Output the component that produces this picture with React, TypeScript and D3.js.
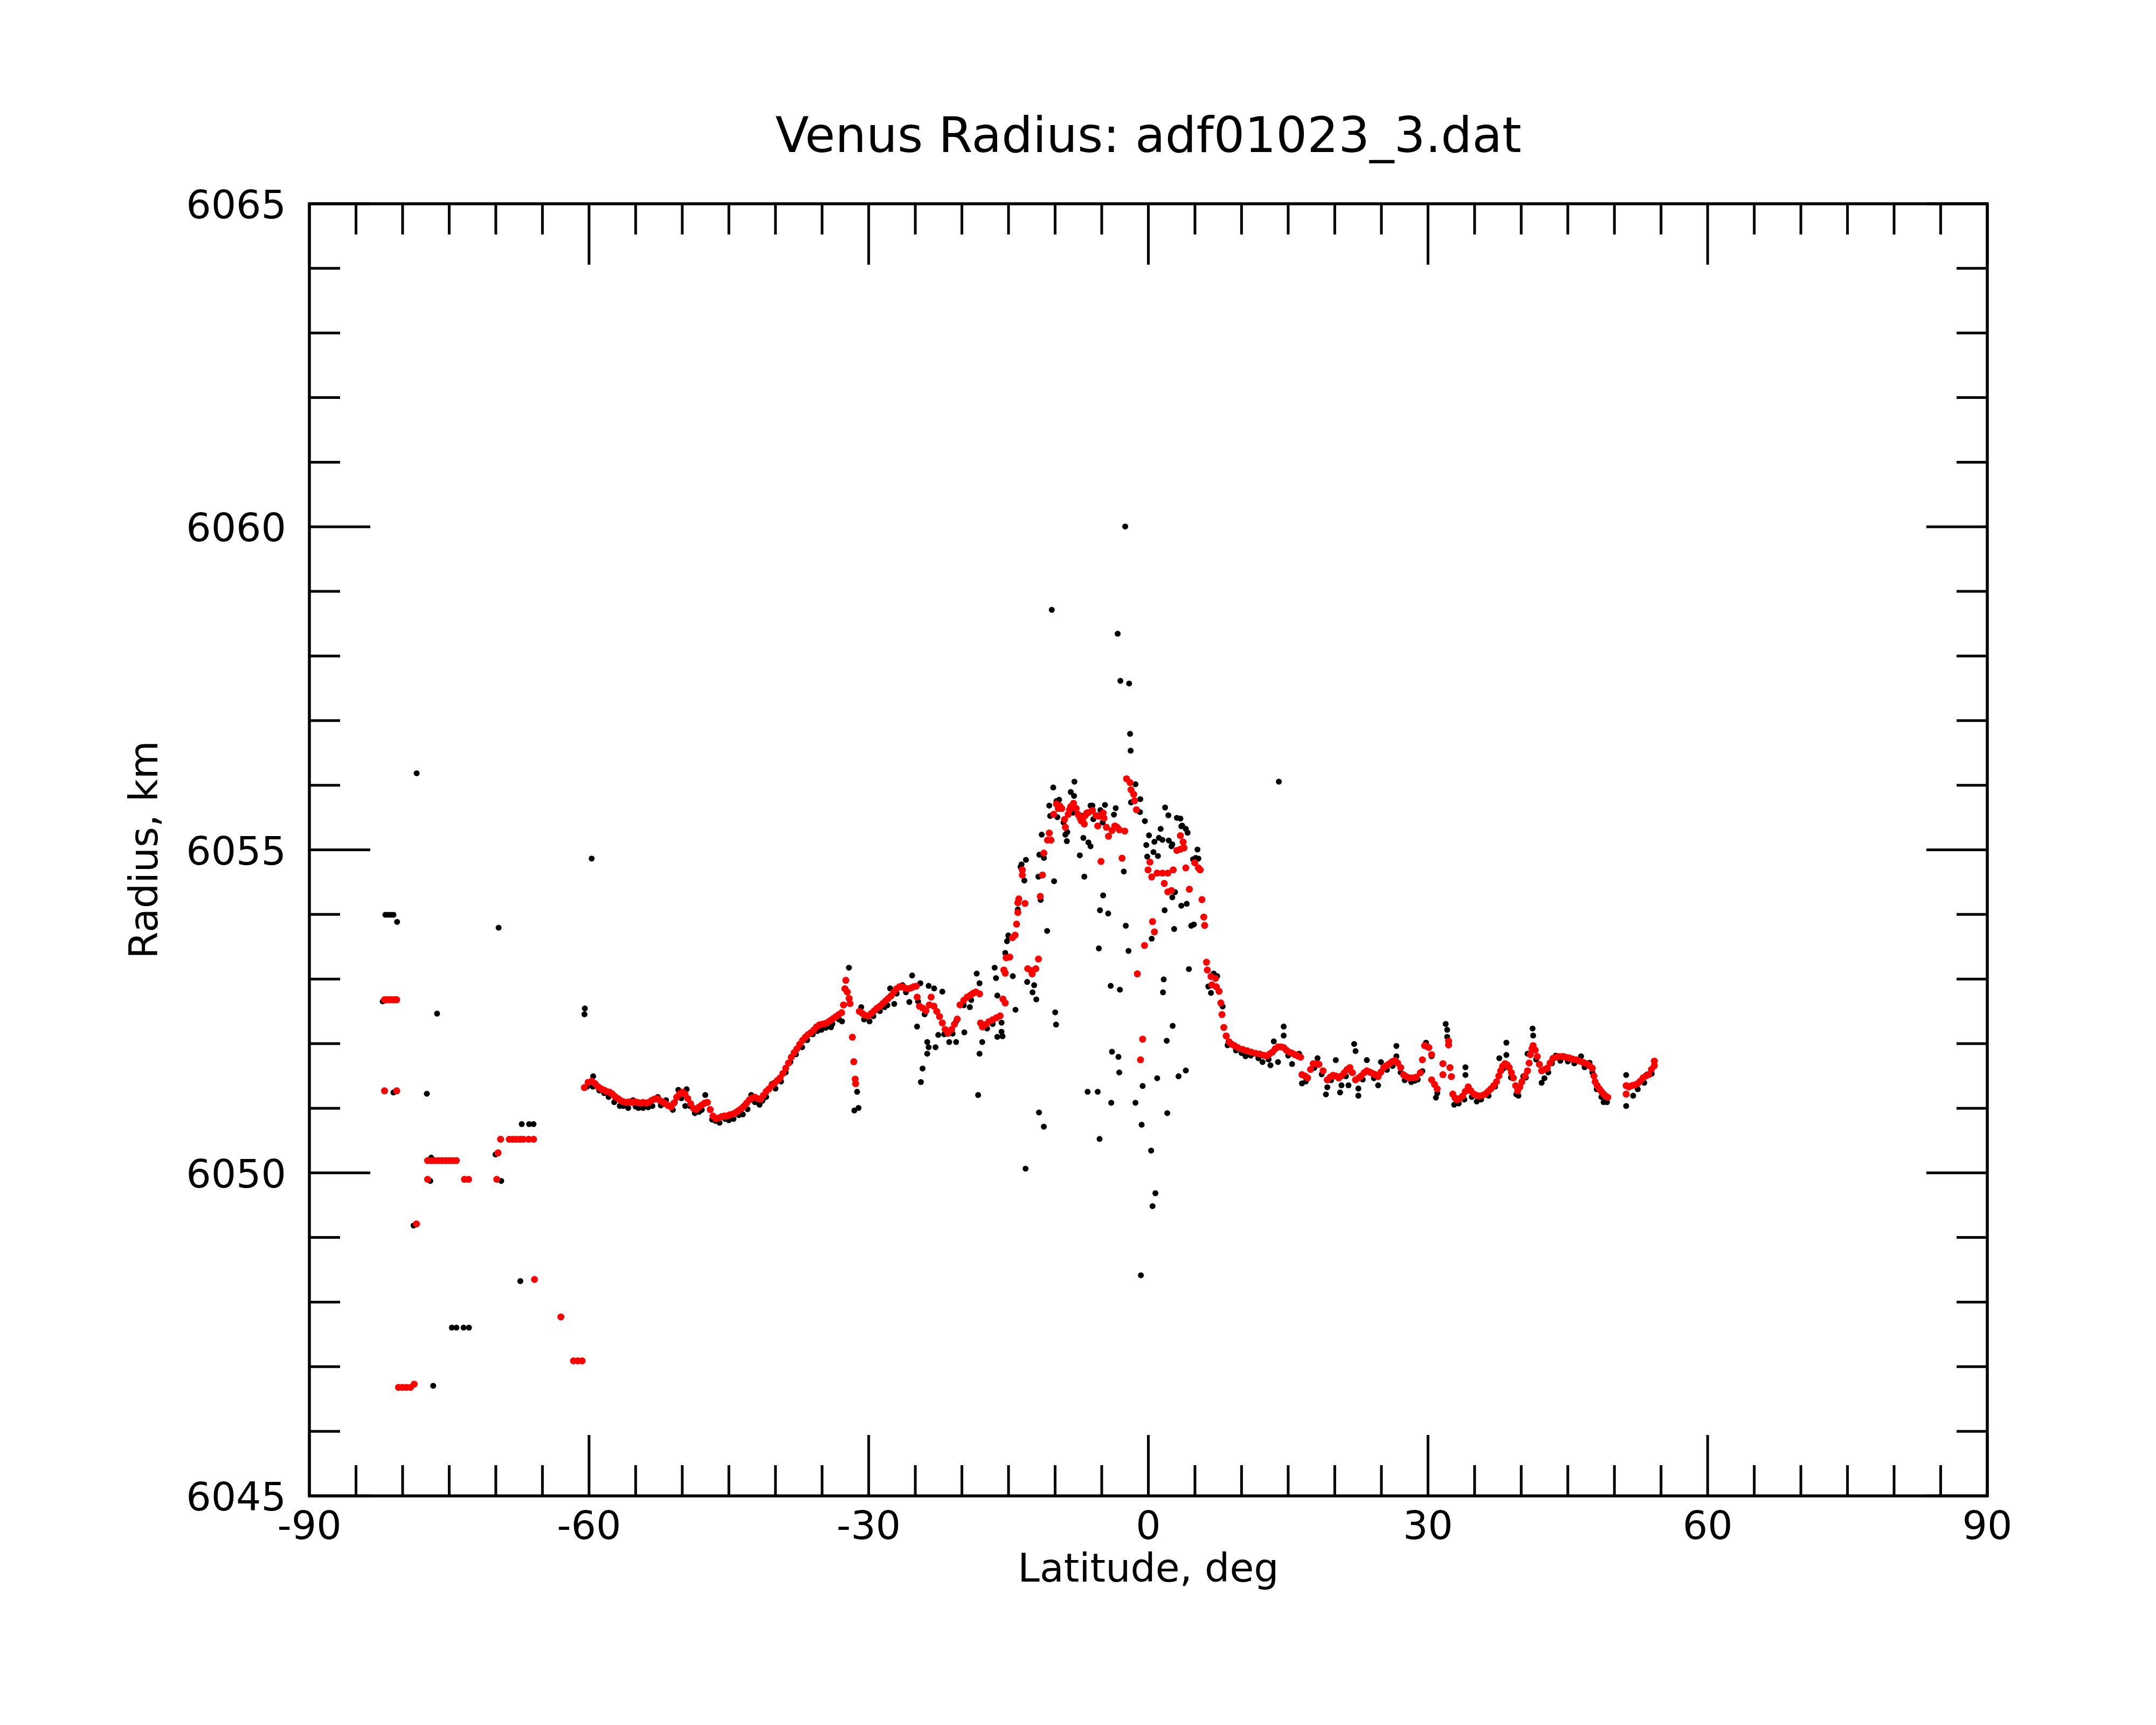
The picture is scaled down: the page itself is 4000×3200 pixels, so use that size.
import { useEffect, useRef } from 'react'
import * as d3 from 'd3'

// latitude (deg), radius (km)
const redPolar = [
  [-81.94, 6052.68], [-81.65, 6052.68], [-81.36, 6052.68], [-81.08, 6052.68], [-80.79, 6052.68], [-80.63, 6052.68],
  [-81.94, 6051.27], [-80.63, 6051.27], [-78.51, 6049.21],
  [-77.32, 6050.19], [-76.93, 6050.19], [-76.55, 6050.19], [-76.16, 6050.19], [-75.78, 6050.19],
  [-75.39, 6050.19], [-75.0, 6050.19], [-74.62, 6050.19], [-74.23, 6050.19],
  [-77.32, 6049.9], [-73.37, 6049.9], [-72.92, 6049.9], [-69.9, 6049.9], [-69.76, 6050.31],
  [-69.49, 6050.52], [-68.55, 6050.52], [-68.16, 6050.52], [-67.78, 6050.52], [-67.39, 6050.52],
  [-67.06, 6050.52], [-66.48, 6050.52], [-65.95, 6050.52],
  [-65.85, 6048.35], [-63.02, 6047.77], [-61.67, 6047.09], [-61.22, 6047.09], [-60.74, 6047.09],
  [-80.44, 6046.68], [-80.02, 6046.68], [-79.59, 6046.68], [-79.15, 6046.68], [-78.76, 6046.73]
]

const blackPolar = [
  [-82.13, 6052.68], [-81.85, 6054.02], [-81.56, 6054.02], [-81.27, 6054.02], [-80.98, 6054.02], [-80.59, 6053.91],
  [-80.98, 6051.27], [-77.4, 6051.25], [-78.49, 6056.21], [-76.3, 6052.49], [-78.82, 6049.21], [-76.93, 6050.26],
  [-77.03, 6049.9], [-69.42, 6049.9], [-70.03, 6050.31], [-67.22, 6050.78], [-66.43, 6050.78], [-65.95, 6050.78],
  [-67.37, 6048.35], [-74.72, 6047.63], [-74.23, 6047.63], [-73.46, 6047.63], [-72.88, 6047.63], [-76.72, 6046.73],
  [-69.7, 6053.82], [-59.72, 6054.89], [-60.49, 6052.48], [-59.59, 6051.36]
]

const redSouth = [
  [-60.5, 6051.32], [-60.1, 6051.4], [-59.7, 6051.42], [-59.35, 6051.38], [-59.0, 6051.33], [-58.7, 6051.3],
  [-58.4, 6051.28], [-58.1, 6051.26], [-57.8, 6051.25], [-57.5, 6051.22], [-57.2, 6051.18], [-56.9, 6051.15],
  [-56.6, 6051.12], [-56.3, 6051.1], [-56.0, 6051.09], [-55.7, 6051.1], [-55.4, 6051.09], [-55.1, 6051.1],
  [-54.8, 6051.09], [-54.5, 6051.08], [-54.2, 6051.09], [-53.9, 6051.08], [-53.6, 6051.09], [-53.3, 6051.12],
  [-53.0, 6051.14], [-52.7, 6051.15], [-52.4, 6051.12], [-52.1, 6051.1], [-51.8, 6051.07], [-51.5, 6051.04],
  [-51.2, 6051.02], [-50.9, 6051.08], [-50.6, 6051.17], [-50.3, 6051.22], [-50.0, 6051.25], [-49.7, 6051.22],
  [-49.4, 6051.15], [-49.1, 6051.07], [-48.8, 6051.0], [-48.5, 6050.98], [-48.2, 6051.02], [-47.9, 6051.05],
  [-47.6, 6051.08], [-47.3, 6051.09], [-47.0, 6050.98], [-46.7, 6050.88], [-46.4, 6050.84], [-46.1, 6050.85],
  [-45.8, 6050.87], [-45.5, 6050.88], [-45.2, 6050.88], [-44.9, 6050.9], [-44.6, 6050.91], [-44.3, 6050.93],
  [-44.0, 6050.96], [-43.7, 6050.99], [-43.4, 6051.03], [-43.1, 6051.08], [-42.8, 6051.13], [-42.5, 6051.16],
  [-42.2, 6051.17], [-41.9, 6051.15], [-41.6, 6051.14], [-41.3, 6051.2], [-41.0, 6051.26], [-40.7, 6051.3],
  [-40.4, 6051.35], [-40.1, 6051.39], [-39.8, 6051.43], [-39.5, 6051.47], [-39.2, 6051.54], [-38.9, 6051.62],
  [-38.6, 6051.7], [-38.3, 6051.79], [-38.0, 6051.86], [-37.7, 6051.92], [-37.4, 6051.99], [-37.1, 6052.05],
  [-36.8, 6052.1], [-36.5, 6052.14], [-36.2, 6052.17], [-35.9, 6052.21], [-35.6, 6052.26], [-35.3, 6052.29],
  [-35.0, 6052.3], [-34.7, 6052.31], [-34.4, 6052.33], [-34.1, 6052.36], [-33.8, 6052.39], [-33.5, 6052.42],
  [-33.2, 6052.45], [-32.9, 6052.48], [-32.7, 6052.6], [-32.55, 6052.85], [-32.45, 6052.98], [-32.3, 6052.8],
  [-32.1, 6052.7], [-32.0, 6052.62], [-31.75, 6052.1], [-31.6, 6051.72], [-31.45, 6051.45], [-31.4, 6051.38],
  [-31.0, 6052.5], [-30.7, 6052.47], [-30.4, 6052.44], [-30.05, 6052.43], [-29.7, 6052.47], [-29.4, 6052.51],
  [-29.1, 6052.55], [-28.8, 6052.58], [-28.5, 6052.62], [-28.2, 6052.66], [-27.9, 6052.7], [-27.6, 6052.74],
  [-27.3, 6052.8], [-27.0, 6052.85], [-26.7, 6052.88], [-26.4, 6052.88], [-26.1, 6052.86], [-25.8, 6052.85],
  [-25.5, 6052.86], [-25.2, 6052.88], [-24.9, 6052.89], [-24.8, 6052.72], [-24.55, 6052.58], [-24.2, 6052.55],
  [-23.85, 6052.51], [-23.5, 6052.6], [-23.3, 6052.72], [-23.0, 6052.58], [-22.7, 6052.5], [-22.4, 6052.42],
  [-22.1, 6052.32], [-21.8, 6052.22], [-21.5, 6052.16], [-21.1, 6052.22], [-20.8, 6052.3], [-20.5, 6052.38],
  [-20.2, 6052.6], [-19.8, 6052.67], [-19.45, 6052.72], [-19.1, 6052.75], [-18.8, 6052.78], [-18.5, 6052.8],
  [-18.1, 6052.77], [-18.0, 6052.32], [-17.8, 6052.26], [-17.4, 6052.3], [-17.1, 6052.34], [-16.7, 6052.37],
  [-16.3, 6052.4], [-15.9, 6052.43], [-15.6, 6052.69]
]

const blackSouth = [
  [-60.2, 6051.36], [-59.9, 6051.4], [-58.9, 6051.3], [-57.9, 6051.2], [-57.3, 6051.12], [-56.7, 6051.06],
  [-55.8, 6051.03], [-55.0, 6051.05], [-54.2, 6051.03], [-53.2, 6051.06], [-52.3, 6051.07], [-50.8, 6051.12],
  [-50.1, 6051.18], [-49.2, 6051.06], [-48.2, 6050.97], [-47.9, 6051.0], [-46.8, 6050.85], [-46.0, 6050.8],
  [-45.0, 6050.84], [-44.5, 6050.86], [-43.5, 6050.93], [-43.0, 6051.01], [-42.2, 6051.12], [-41.4, 6051.14],
  [-41.0, 6051.2], [-40.0, 6051.33], [-39.4, 6051.44], [-38.4, 6051.74], [-37.8, 6051.86], [-36.6, 6052.08],
  [-36.0, 6052.17], [-35.5, 6052.22], [-34.6, 6052.27], [-33.9, 6052.33], [-33.2, 6052.4], [-30.5, 6052.4],
  [-29.5, 6052.45], [-28.8, 6052.53], [-28.0, 6052.62], [-27.0, 6052.8], [-26.0, 6052.82], [-24.7, 6052.68],
  [-24.0, 6052.48], [-21.9, 6052.17], [-21.0, 6052.18], [-19.8, 6052.62], [-19.0, 6052.7], [-17.3, 6052.26],
  [-16.7, 6052.33],
  [-59.56, 6051.52], [-58.38, 6051.26], [-56.32, 6051.06], [-55.28, 6051.15], [-54.69, 6051.03], [-53.66, 6051.04],
  [-52.63, 6051.2], [-51.74, 6051.15], [-51.01, 6051.0], [-50.42, 6051.31], [-49.53, 6051.32], [-49.68, 6051.06],
  [-48.65, 6050.95], [-47.53, 6051.23], [-46.43, 6050.83], [-45.4, 6050.86], [-43.93, 6050.92], [-42.6, 6051.23],
  [-41.71, 6051.08], [-40.39, 6051.4], [-38.91, 6051.58], [-37.14, 6051.97], [-35.07, 6052.24], [-34.04, 6052.28],
  [-33.45, 6052.45], [-32.86, 6052.37], [-32.12, 6053.2], [-31.54, 6050.99], [-31.09, 6051.03], [-31.24, 6051.28],
  [-60.45, 6052.57], [-30.8, 6052.59], [-29.91, 6052.37], [-28.29, 6052.59], [-27.7, 6052.88], [-27.26, 6052.64],
  [-26.37, 6052.93], [-25.64, 6052.67], [-25.34, 6053.08], [-24.46, 6052.96], [-23.57, 6052.92], [-22.98, 6052.88],
  [-22.1, 6052.83], [-24.81, 6052.29], [-23.72, 6052.05], [-23.57, 6051.97], [-22.83, 6051.97], [-23.72, 6051.87],
  [-24.22, 6051.64], [-24.4, 6051.43], [-22.54, 6052.16], [-21.36, 6052.05], [-20.62, 6052.05], [-20.62, 6052.37],
  [-19.74, 6052.2], [-19.15, 6052.59], [-18.41, 6053.11], [-18.11, 6052.96], [-17.82, 6052.05], [-18.11, 6051.87],
  [-18.26, 6051.23], [-16.49, 6053.2], [-16.34, 6053.04], [-16.2, 6052.77], [-16.2, 6052.13], [-15.75, 6052.21],
  [-15.75, 6052.35], [-15.02, 6053.7]
]

const redEquator = [
  [-15.35, 6052.63], [-15.5, 6053.14], [-15.35, 6053.09], [-15.25, 6053.33], [-14.87, 6053.34], [-14.58, 6053.64],
  [-14.29, 6053.68], [-14.14, 6053.85], [-14.0, 6054.03], [-14.0, 6054.18], [-13.9, 6054.24], [-13.23, 6054.17],
  [-13.52, 6054.61], [-13.52, 6054.69], [-12.94, 6053.16], [-12.56, 6053.13], [-12.46, 6053.08], [-12.07, 6053.16],
  [-11.79, 6053.31], [-11.59, 6054.28], [-11.36, 6054.61], [-11.21, 6054.95], [-10.82, 6055.15], [-10.44, 6055.15],
  [-10.63, 6055.26], [-10.15, 6055.55], [-9.86, 6055.71], [-9.66, 6055.64], [-9.5, 6055.68], [-9.28, 6055.64],
  [-8.99, 6055.47], [-8.9, 6055.35], [-8.6, 6055.55], [-8.45, 6055.62], [-8.32, 6055.67], [-8.03, 6055.72],
  [-7.74, 6055.64], [-7.55, 6055.55], [-7.35, 6055.5], [-7.2, 6055.45], [-7.06, 6055.47], [-6.87, 6055.4],
  [-6.77, 6055.53], [-6.6, 6055.57], [-6.39, 6055.58], [-6.0, 6055.61], [-5.62, 6055.53], [-5.43, 6055.37],
  [-5.3, 6055.52], [-4.85, 6055.57], [-4.75, 6055.49], [-4.5, 6055.35], [-4.27, 6055.21], [-3.9, 6055.3],
  [-3.59, 6055.37], [-3.35, 6055.35], [-3.11, 6055.31], [-2.53, 6055.29], [-5.08, 6054.82], [-2.82, 6054.87],
  [-2.34, 6056.1], [-1.96, 6056.04], [-1.86, 6055.93], [-1.57, 6055.86], [-1.47, 6055.76], [-1.28, 6055.62],
  [0.17, 6054.81], [-0.03, 6054.69], [0.36, 6054.58], [0.94, 6054.64], [1.51, 6054.64], [2.09, 6054.64],
  [2.67, 6054.69], [1.71, 6054.48], [2.09, 6054.35], [2.48, 6054.37], [3.44, 6055.22], [3.73, 6055.12],
  [3.83, 6055.03], [3.06, 6054.99], [3.44, 6055.01], [4.02, 6054.72], [4.4, 6054.39], [4.98, 6054.8],
  [5.37, 6054.72], [5.56, 6054.69], [5.75, 6054.23], [5.95, 6053.96], [6.04, 6053.83], [6.24, 6053.26],
  [6.33, 6053.14], [6.72, 6053.04], [7.2, 6053.01], [6.81, 6052.91], [7.3, 6052.88], [7.59, 6052.81],
  [7.78, 6052.63], [-0.41, 6053.52], [0.45, 6053.89], [0.65, 6053.73], [-1.18, 6053.08], [-0.61, 6052.07],
  [-0.84, 6051.75]
]

const blackEquator = [
  [-2.48, 6060.03], [-10.36, 6058.74], [-3.29, 6058.37], [-3.0, 6057.64], [-2.06, 6057.6], [-1.96, 6056.82],
  [-1.9, 6056.56], [-14.25, 6052.55], [-9.99, 6052.51], [-9.9, 6052.32], [-15.64, 6052.14], [-6.51, 6051.28],
  [-5.43, 6051.28], [-3.98, 6051.11], [-1.38, 6051.11], [-0.61, 6051.37], [-0.72, 6050.77], [0.95, 6051.49],
  [3.24, 6051.52], [4.02, 6051.61], [2.03, 6050.95], [-11.73, 6050.96], [-11.21, 6050.74], [-5.23, 6050.55],
  [-13.17, 6050.09], [0.3, 6050.37], [0.76, 6049.71], [0.45, 6049.51], [-0.8, 6048.44], [2.61, 6052.3],
  [1.97, 6052.07], [-3.9, 6051.9], [-3.21, 6051.82], [-3.12, 6051.58],
  [-7.93, 6056.08], [-10.2, 6055.99], [-8.32, 6055.92], [-7.97, 6055.86], [-9.57, 6055.8], [-9.86, 6055.78],
  [-10.63, 6055.71], [-6.2, 6055.71], [-6.0, 6055.71], [-4.65, 6055.72], [-3.5, 6055.67], [-3.69, 6055.57],
  [-5.14, 6055.64], [-10.53, 6055.55], [-9.76, 6055.53], [-1.38, 6056.04], [-0.86, 6055.81], [-1.86, 6055.76],
  [-0.9, 6055.61], [-0.37, 6055.47], [1.8, 6055.68], [2.15, 6055.56], [3.06, 6055.52], [3.44, 6055.51],
  [3.63, 6055.4], [4.21, 6055.29], [1.32, 6055.35], [0.07, 6055.25], [1.13, 6055.21], [1.51, 6055.18],
  [0.65, 6055.15], [2.19, 6055.17], [2.57, 6055.11], [-0.22, 6055.1], [0.55, 6054.99], [1.03, 6054.93],
  [-0.12, 6054.92], [5.27, 6055.03], [5.08, 6054.9], [5.37, 6054.89], [4.79, 6054.88], [-11.44, 6055.26],
  [-8.74, 6055.16], [-6.97, 6055.21], [-6.43, 6055.14], [-6.2, 6055.08], [-7.35, 6054.94], [-8.9, 6055.26],
  [-8.7, 6055.3], [-13.13, 6054.87], [-13.6, 6054.8], [-13.71, 6054.76], [-11.69, 6054.95], [-11.79, 6054.61],
  [-10.11, 6054.54], [-6.87, 6054.61], [-2.63, 6054.69], [-4.85, 6054.32], [-5.19, 6054.09], [-4.31, 6054.04],
  [-2.42, 6053.85], [-10.86, 6053.77], [-5.31, 6053.5], [-2.13, 6053.46], [1.75, 6054.09], [2.86, 6054.37],
  [2.57, 6054.29], [2.77, 6053.8], [3.54, 6054.16], [4.12, 6054.19], [4.6, 6053.85], [4.89, 6053.87],
  [4.35, 6053.18], [0.36, 6053.65], [1.65, 6053.02], [1.57, 6052.82], [-4.04, 6052.92], [-3.05, 6052.86],
  [-14.54, 6053.07], [-13.0, 6052.98], [-12.25, 6052.93], [-12.42, 6052.82], [-12.02, 6052.71], [-15.35, 6053.43],
  [-14.97, 6053.68], [-15.16, 6053.61], [7.01, 6053.11], [7.39, 6053.07], [6.43, 6052.91], [6.72, 6052.81],
  [7.97, 6052.6], [3.54, 6055.39], [4.02, 6055.35], [2.48, 6055.08], [-9.1, 6055.45], [-8.1, 6055.6],
  [-7.1, 6055.55], [-5.9, 6055.5], [-4.9, 6055.45], [-14.0, 6054.1], [-13.3, 6054.55], [-11.55, 6054.25],
  [-11.2, 6054.9]
]

const redNorth = [
  [7.9, 6052.45], [8.1, 6052.25], [8.35, 6052.12], [8.65, 6052.03], [8.95, 6051.99], [9.23, 6051.97],
  [9.6, 6051.94], [10.13, 6051.91], [10.6, 6051.89], [11.04, 6051.87], [11.5, 6051.85], [11.95, 6051.84],
  [12.35, 6051.82], [12.7, 6051.81], [13.0, 6051.84], [13.31, 6051.87], [13.6, 6051.92], [13.91, 6051.95],
  [14.2, 6051.95], [14.52, 6051.94], [14.8, 6051.9], [15.12, 6051.87], [15.45, 6051.85], [15.73, 6051.83],
  [16.05, 6051.81], [16.33, 6051.79], [16.48, 6051.52], [16.8, 6051.5], [17.09, 6051.47], [17.4, 6051.6],
  [17.69, 6051.69], [18.0, 6051.69], [18.3, 6051.68], [18.75, 6051.58], [19.2, 6051.44], [19.5, 6051.48],
  [19.81, 6051.51], [20.1, 6051.5], [20.42, 6051.47], [20.7, 6051.5], [21.02, 6051.55], [21.32, 6051.6],
  [21.62, 6051.63], [21.9, 6051.55], [22.23, 6051.44], [22.55, 6051.47], [22.83, 6051.5], [23.15, 6051.55],
  [23.44, 6051.58], [23.75, 6051.56], [24.04, 6051.54], [24.35, 6051.52], [24.65, 6051.49], [24.95, 6051.56],
  [25.25, 6051.63], [25.55, 6051.66], [25.86, 6051.69], [26.15, 6051.72], [26.46, 6051.74], [26.75, 6051.7],
  [27.07, 6051.63], [27.37, 6051.52], [27.67, 6051.49], [27.97, 6051.47], [28.35, 6051.47], [28.73, 6051.48],
  [29.18, 6051.55], [29.4, 6051.75], [29.64, 6051.97], [29.85, 6051.96], [30.09, 6051.94], [30.39, 6051.83],
  [30.39, 6051.44], [30.7, 6051.37], [30.99, 6051.3], [31.6, 6051.69], [31.6, 6051.52], [32.21, 6052.04],
  [32.21, 6051.98], [32.36, 6051.63], [32.51, 6051.49], [32.66, 6051.22], [32.9, 6051.16], [33.11, 6051.13],
  [33.4, 6051.15], [33.72, 6051.19], [34.0, 6051.26], [34.32, 6051.33], [34.6, 6051.27], [34.93, 6051.22],
  [35.23, 6051.2], [35.53, 6051.19], [35.85, 6051.2], [36.14, 6051.22], [36.45, 6051.26], [36.74, 6051.3],
  [37.05, 6051.35], [37.35, 6051.41], [37.6, 6051.5], [37.8, 6051.58], [38.0, 6051.65], [38.26, 6051.69],
  [38.5, 6051.67], [38.71, 6051.63], [38.95, 6051.55], [39.16, 6051.47], [39.4, 6051.35], [39.62, 6051.27],
  [39.85, 6051.33], [40.07, 6051.41], [40.4, 6051.5], [40.68, 6051.58], [40.85, 6051.7], [40.98, 6051.83],
  [41.15, 6051.92], [41.28, 6051.97], [41.5, 6051.9], [41.73, 6051.8], [41.95, 6051.68], [42.19, 6051.58],
  [42.5, 6051.6], [42.79, 6051.62], [43.1, 6051.7], [43.4, 6051.77], [43.7, 6051.79], [44.0, 6051.8],
  [44.4, 6051.8], [44.76, 6051.79], [45.15, 6051.78], [45.52, 6051.76], [45.9, 6051.75], [46.27, 6051.73],
  [46.65, 6051.71], [47.03, 6051.69], [47.33, 6051.66], [47.63, 6051.62], [47.8, 6051.5], [47.93, 6051.41],
  [48.15, 6051.35], [48.39, 6051.3], [48.6, 6051.26], [48.84, 6051.22], [49.05, 6051.19], [49.29, 6051.17],
  [51.26, 6051.35], [51.26, 6051.22], [51.55, 6051.33], [51.86, 6051.35], [52.15, 6051.36], [52.47, 6051.38],
  [52.77, 6051.42], [53.07, 6051.47], [53.37, 6051.5], [53.67, 6051.52], [53.97, 6051.6], [54.28, 6051.66],
  [54.28, 6051.73]
]

const blackNorth = [
  [14.52, 6052.29], [14.52, 6052.15], [13.46, 6052.06], [13.91, 6051.74], [13.1, 6051.69], [12.25, 6051.74],
  [10.43, 6051.83], [15.42, 6051.71], [16.18, 6051.87], [18.15, 6051.8], [16.48, 6051.41], [19.05, 6051.24],
  [19.2, 6051.35], [20.11, 6051.77], [20.57, 6051.27], [20.72, 6051.38], [21.47, 6051.38], [22.08, 6052.02],
  [22.23, 6051.91], [22.53, 6051.22], [22.53, 6051.33], [23.44, 6051.77], [24.65, 6051.38], [24.95, 6051.74],
  [26.61, 6051.99], [26.61, 6051.83], [27.07, 6051.58], [28.58, 6051.45], [29.79, 6052.04], [30.39, 6051.83],
  [30.85, 6051.19], [31.9, 6052.33], [32.06, 6052.24], [32.06, 6052.13], [32.81, 6051.08], [34.02, 6051.66],
  [34.02, 6051.54], [35.23, 6051.13], [37.65, 6051.8], [38.41, 6052.04], [38.41, 6051.85], [39.47, 6051.24],
  [40.22, 6051.52], [41.22, 6052.26], [41.28, 6052.15], [40.68, 6051.87], [42.19, 6051.42], [42.49, 6051.49],
  [43.7, 6051.84], [44.61, 6051.83], [46.42, 6051.83], [47.33, 6051.73], [47.63, 6051.58], [48.84, 6051.12],
  [51.26, 6051.54], [51.26, 6051.06], [52.01, 6051.22], [53.52, 6051.55], [14.0, 6056.08],
  [8.5, 6052.0], [9.4, 6051.92], [10.0, 6051.88], [11.0, 6051.84], [11.8, 6051.8], [12.9, 6051.78],
  [15.0, 6051.84], [16.9, 6051.44], [17.8, 6051.65], [18.6, 6051.55], [19.6, 6051.46], [21.2, 6051.52],
  [21.8, 6051.58], [23.0, 6051.47], [24.2, 6051.49], [25.6, 6051.62], [26.2, 6051.68], [27.5, 6051.46],
  [28.2, 6051.43], [28.9, 6051.47], [29.4, 6051.6], [31.0, 6051.26], [33.3, 6051.1], [33.9, 6051.16],
  [34.7, 6051.2], [35.7, 6051.16], [36.5, 6051.22], [37.2, 6051.36], [38.1, 6051.64], [38.9, 6051.5],
  [39.7, 6051.22], [40.5, 6051.5], [41.6, 6051.78], [42.9, 6051.58], [43.3, 6051.72], [44.2, 6051.76],
  [45.0, 6051.75], [45.7, 6051.72], [46.8, 6051.66], [48.1, 6051.32], [48.6, 6051.2], [49.2, 6051.12],
  [52.5, 6051.32], [53.2, 6051.42], [54.0, 6051.56]
]

const xTickLabels = [-90, -60, -30, 0, 30, 60, 90]
const yTickLabels = [6045, 6050, 6055, 6060, 6065]

const title = 'Venus Radius: adf01023_3.dat'
const xTitle = 'Latitude, deg'
const yTitle = 'Radius, km'

export default function App() {
  const svgRef = useRef(null)

  const svgWidth = 4000
  const svgHeight = 3200
  const plot = { left: 574, right: 3687, top: 378, bottom: 2775 }
  const font = '"DejaVu Sans", sans-serif'

  useEffect(() => {
    svgRef.current.innerHTML = ''

    const xScale = d3.scaleLinear()
      .domain([-90, 90])
      .range([plot.left, plot.right])

    const yScale = d3.scaleLinear()
      .domain([6045, 6065])
      .range([plot.bottom, plot.top])

    const svg = d3.select(svgRef.current)

    svg.append('rect')
      .attr('width', svgWidth)
      .attr('height', svgHeight)
      .attr('fill', '#fff')

    // points: black raw data first, red on top
    const black = [...blackPolar, ...blackSouth, ...blackEquator, ...blackNorth]
    const red = [...redPolar, ...redSouth, ...redEquator, ...redNorth]

    svg.append('g')
      .selectAll('circle')
      .data(black)
      .enter().append('circle')
        .attr('cx', d => xScale(d[0]))
        .attr('cy', d => yScale(d[1]) + 3)
        .attr('r', 5.5)
        .attr('fill', '#000')

    svg.append('g')
      .selectAll('circle')
      .data(red)
      .enter().append('circle')
        .attr('cx', d => xScale(d[0]))
        .attr('cy', d => yScale(d[1]))
        .attr('r', 6.5)
        .attr('fill', '#ff0000')

    // ticks, pointing inward on all four sides
    const ticks = svg.append('g')
      .attr('stroke', '#000')
      .attr('stroke-width', 5)

    const xMinor = d3.range(-90, 91, 5)
    const yMinor = d3.range(6045, 6066, 1)

    xMinor.forEach(v => {
      const len = v % 30 === 0 ? 113 : 57
      const x = xScale(v)
      ticks.append('line')
        .attr('x1', x).attr('x2', x)
        .attr('y1', plot.bottom).attr('y2', plot.bottom - len)
      ticks.append('line')
        .attr('x1', x).attr('x2', x)
        .attr('y1', plot.top).attr('y2', plot.top + len)
    })

    yMinor.forEach(v => {
      const len = v % 5 === 0 ? 113 : 57
      const y = yScale(v)
      ticks.append('line')
        .attr('x1', plot.left).attr('x2', plot.left + len)
        .attr('y1', y).attr('y2', y)
      ticks.append('line')
        .attr('x1', plot.right).attr('x2', plot.right - len)
        .attr('y1', y).attr('y2', y)
    })

    svg.append('rect')
      .attr('x', plot.left)
      .attr('y', plot.top)
      .attr('width', plot.right - plot.left)
      .attr('height', plot.bottom - plot.top)
      .attr('fill', 'none')
      .attr('stroke', '#000')
      .attr('stroke-width', 5.5)

    // tick labels
    svg.append('g')
      .selectAll('text')
      .data(xTickLabels)
      .enter().append('text')
        .attr('x', d => xScale(d))
        .attr('y', plot.bottom + 80)
        .attr('text-anchor', 'middle')
        .attr('font-family', font)
        .attr('font-size', 73)
        .text(d => d)

    svg.append('g')
      .selectAll('text')
      .data(yTickLabels)
      .enter().append('text')
        .attr('x', plot.left - 43)
        .attr('y', d => yScale(d) + 27)
        .attr('text-anchor', 'end')
        .attr('font-family', font)
        .attr('font-size', 73)
        .text(d => d)

    // titles
    svg.append('text')
      .attr('x', (plot.left + plot.right) / 2)
      .attr('y', 282)
      .attr('text-anchor', 'middle')
      .attr('font-family', font)
      .attr('font-size', 91)
      .text(title)

    svg.append('text')
      .attr('x', (plot.left + plot.right) / 2)
      .attr('y', 2934)
      .attr('text-anchor', 'middle')
      .attr('font-family', font)
      .attr('font-size', 73)
      .text(xTitle)

    svg.append('text')
      .attr('transform', `translate(292, ${(plot.top + plot.bottom) / 2}) rotate(-90)`)
      .attr('text-anchor', 'middle')
      .attr('font-family', font)
      .attr('font-size', 73)
      .text(yTitle)
  }, [])

  return (
    <svg
      ref={ svgRef }
      width={ svgWidth }
      height={ svgHeight }
      viewBox={ `0 0 ${svgWidth} ${svgHeight}` }
      style={ { position: 'absolute', left: 0, top: 0, display: 'block' } }
    />
  )
}
